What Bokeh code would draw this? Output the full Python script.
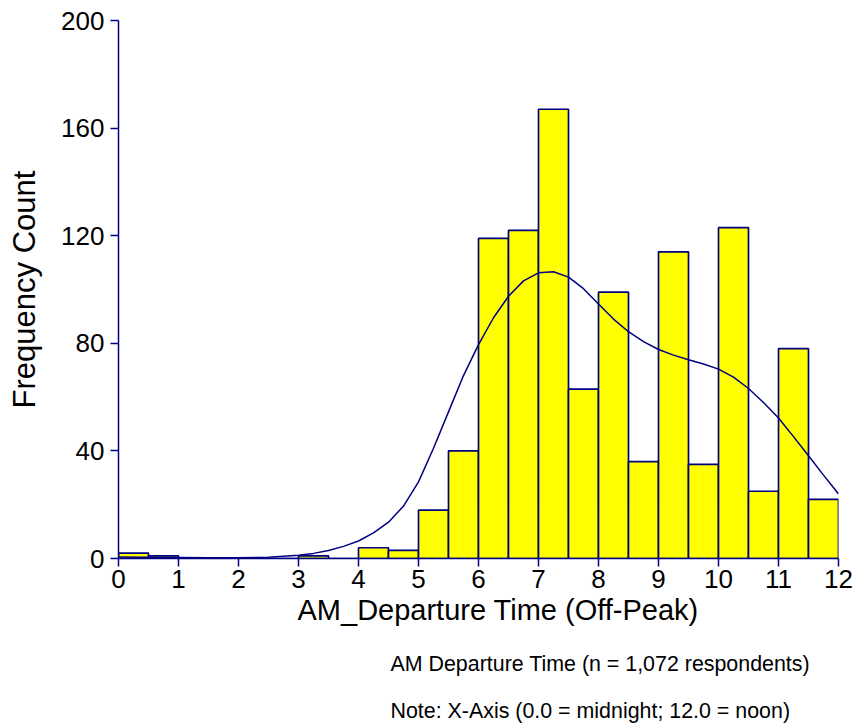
from bokeh.plotting import figure
from bokeh.models import Range1d, Title, FixedTicker, ColumnDataSource
from bokeh.embed import file_html
from bokeh.resources import INLINE

# ---- data ----
bin_left = [0.0, 0.5, 1.0, 1.5, 2.0, 2.5, 3.0, 3.5, 4.0, 4.5, 5.0, 5.5,
            6.0, 6.5, 7.0, 7.5, 8.0, 8.5, 9.0, 9.5, 10.0, 10.5, 11.0, 11.5]
bin_right = [0.5, 1.0, 1.5, 2.0, 2.5, 3.0, 3.5, 4.0, 4.5, 5.0, 5.5, 6.0,
             6.5, 7.0, 7.5, 8.0, 8.5, 9.0, 9.5, 10.0, 10.5, 11.0, 11.5, 12.0]
counts = [2, 1, 0, 0, 0, 0, 1, 0, 4, 3, 18, 40,
          119, 122, 167, 63, 99, 36, 114, 35, 123, 25, 78, 22]

curve_x = [0, 0.5, 1, 1.5, 2, 2.5, 3, 3.25, 3.5, 3.75, 4, 4.25, 4.5, 4.75,
           5, 5.25, 5.5, 5.75, 6, 6.25, 6.5, 6.75, 7, 7.25, 7.5, 7.75, 8,
           8.25, 8.5, 8.75, 9, 9.25, 9.5, 9.75, 10, 10.25, 10.5, 10.75, 11,
           11.25, 11.5, 11.75, 12]
curve_y = [0.6, 0.5, 0.4, 0.3, 0.3, 0.5, 1.2, 1.9, 3.0, 4.5, 6.5, 9.5, 13.5,
           19.5, 28.5, 41.0, 54.5, 68.0, 79.5, 89.5, 97.5, 103.2, 106.2, 106.6,
           104.6, 100.3, 94.6, 89.0, 84.3, 80.6, 77.7, 75.6, 73.9, 72.3, 70.4,
           67.4, 63.2, 58.0, 52.2, 45.3, 38.2, 31.0, 24.0]

x_ticks = [0, 1, 2, 3, 4, 5, 6, 7, 8, 9, 10, 11, 12]
y_ticks = [0, 40, 80, 120, 160, 200]

x_label = "AM_Departure Time (Off-Peak)"
y_label = "Frequency Count"
note1 = "AM Departure Time (n = 1,072 respondents)"
note2 = "Note: X-Axis (0.0 = midnight; 12.0 = noon)"

NAVY = "#000080"
FONT = "Liberation Sans"

p = figure(width=855, height=724, output_backend="svg", toolbar_location=None,
           x_range=Range1d(0, 12), y_range=Range1d(0, 200),
           min_border_left=118, min_border_right=17, min_border_top=20,
           min_border_bottom=166)
p.outline_line_color = None
p.grid.visible = False
p.background_fill_color = "white"
p.border_fill_color = "white"

bars = ColumnDataSource(dict(left=bin_left, right=bin_right, top=counts,
                             bottom=[0] * len(counts)))
p.quad(left="left", right="right", top="top", bottom="bottom", source=bars,
       fill_color="#FFFF00", line_color=NAVY, line_width=1.7)

p.line(curve_x, curve_y, line_color=NAVY, line_width=1.5)

for ax in (p.xaxis[0], p.yaxis[0]):
    ax.axis_line_color = NAVY
    ax.axis_line_width = 1.5
    ax.major_tick_line_color = NAVY
    ax.major_tick_line_width = 1.5
    ax.major_tick_out = 8
    ax.major_tick_in = 0
    ax.minor_tick_line_color = None
    ax.major_label_text_font = FONT
    ax.major_label_text_font_size = "26px"
    ax.major_label_text_color = "black"

p.xaxis[0].ticker = FixedTicker(ticks=x_ticks)
p.yaxis[0].ticker = FixedTicker(ticks=y_ticks)
p.xaxis[0].major_label_standoff = 3
p.yaxis[0].major_label_standoff = 6

p.yaxis[0].axis_label = y_label
p.yaxis[0].axis_label_text_font = FONT
p.yaxis[0].axis_label_text_font_size = "31px"
p.yaxis[0].axis_label_text_font_style = "normal"
p.yaxis[0].axis_label_text_color = "black"
p.yaxis[0].axis_label_standoff = 16

t_x = Title(text=x_label, align="left", offset=179, standoff=2,
            text_font=FONT, text_font_size="29px", text_font_style="normal",
            text_color="black")
p.add_layout(t_x, "below")
t_n1 = Title(text=note1, align="left", offset=272, standoff=47,
             text_font=FONT, text_font_size="21.4px", text_font_style="normal",
             text_color="black")
p.add_layout(t_n1, "below")
t_n2 = Title(text=note2, align="left", offset=272, standoff=-5,
             text_font=FONT, text_font_size="21.4px", text_font_style="normal",
             text_color="black")
p.add_layout(t_n2, "below")

open("out.html", "w").write(file_html(p, INLINE))
